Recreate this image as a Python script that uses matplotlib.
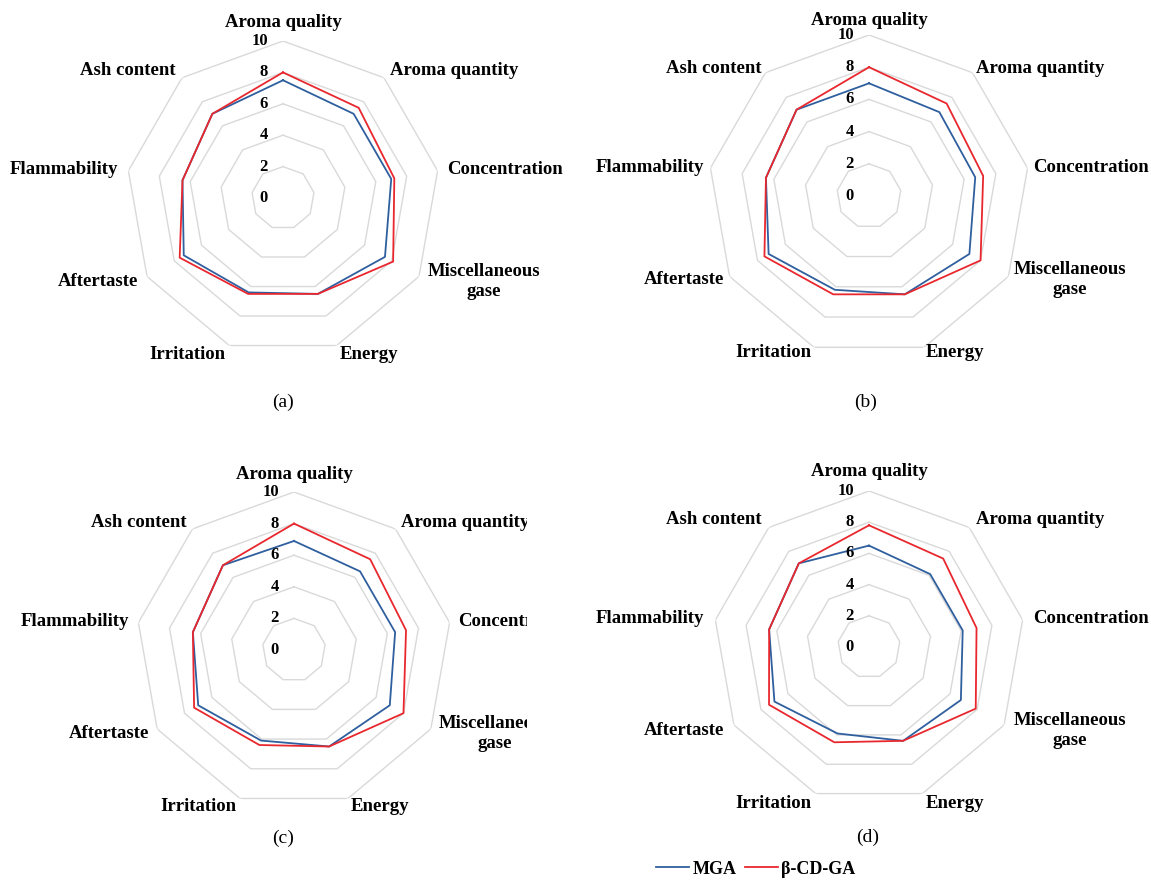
import numpy as np
import matplotlib
matplotlib.use("Agg")
import matplotlib.pyplot as plt
from matplotlib.lines import Line2D
from matplotlib.transforms import Bbox, TransformedBbox

# Sensory attributes (clockwise from the top)
categories = ["Aroma quality", "Aroma quantity", "Concentration",
              "Miscellaneous\ngase", "Energy", "Irritation",
              "Aftertaste", "Flammability", "Ash content"]
ring_values = [2, 4, 6, 8, 10]
tick_values = [0, 2, 4, 6, 8, 10]
series_names = ["MGA", "β-CD-GA"]
panel_letters = ["(a)", "(b)", "(c)", "(d)"]

# Scores per panel
mga_a = [7.5, 7.0, 7.0, 7.5, 6.5, 6.4, 7.3, 6.5, 7.0]
cdga_a = [8.0, 7.5, 7.2, 8.1, 6.5, 6.5, 7.6, 6.5, 7.0]
mga_b = [7.0, 6.8, 6.7, 7.2, 6.5, 6.2, 7.2, 6.5, 7.0]
cdga_b = [8.0, 7.5, 7.2, 8.0, 6.5, 6.5, 7.5, 6.5, 7.0]
mga_c = [6.9, 6.5, 6.5, 7.0, 6.5, 6.1, 7.0, 6.5, 7.0]
cdga_c = [8.0, 7.5, 7.2, 8.0, 6.5, 6.4, 7.3, 6.5, 7.0]
mga_d = [6.5, 6.1, 6.1, 6.8, 6.4, 5.9, 7.0, 6.5, 7.0]
cdga_d = [7.8, 7.4, 7.0, 7.9, 6.4, 6.5, 7.4, 6.5, 7.0]

W, H = 1151, 881
BLUE = "#2f5f9e"
RED = "#e8282e"
GRID = "#d9d9d9"
LABEL_OFFSET = 167  # distance of category labels from the centre, pixels

plt.rcParams["font.family"] = ["Liberation Serif", "DejaVu Serif"]
fig = plt.figure(figsize=(W / 100, H / 100), dpi=100)

# layout: (centre x, centre y, outer radius) in pixels, letter position, text clip x
layout = [
    ((283, 198), 157, (283, 402), None),
    ((869, 196), 161, (866, 402), None),
    ((294, 650), 158, (283, 838), 527),
    ((869, 647), 156, (868, 837), None),
]
panel_data = [(mga_a, cdga_a), (mga_b, cdga_b), (mga_c, cdga_c), (mga_d, cdga_d)]

n = len(categories)
theta = np.linspace(0, 2 * np.pi, n, endpoint=False)
theta_c = np.append(theta, theta[0])


def closed(vals):
    return np.append(vals, vals[0])


for (center, R, letter_pos, clip_x), (mga, cdga), letter in zip(layout, panel_data, panel_letters):
    cx, cy = center
    ax = fig.add_axes([(cx - R) / W, (H - cy - R) / H, 2 * R / W, 2 * R / H],
                      projection="polar")
    ax.set_theta_zero_location("N")
    ax.set_theta_direction(-1)
    ax.set_ylim(0, 10)
    ax.grid(False)
    ax.set_xticks([])
    ax.set_yticks([])
    ax.spines["polar"].set_visible(False)
    ax.patch.set_visible(False)

    for r in ring_values:
        ax.plot(theta_c, [r] * (n + 1), color=GRID, lw=1.0, zorder=1)

    ax.plot(theta_c, closed(mga), color=BLUE, lw=1.3, zorder=3)
    ax.plot(theta_c, closed(cdga), color=RED, lw=1.3, zorder=4)

    # radial scale labels along the top axis
    for v in tick_values:
        ax.annotate(str(v), xy=(0, v), xytext=(-15, 0), textcoords="offset pixels",
                    ha="right", va="center", fontsize=12, fontweight="bold",
                    annotation_clip=False)

    # category labels
    r_lab = 10 * LABEL_OFFSET / R
    clip_box = None
    if clip_x is not None:
        clip_box = TransformedBbox(Bbox.from_extents(0, 0, clip_x / W, 1), fig.transFigure)
    for t, lab in zip(theta, categories):
        s = np.sin(t)
        if s > 0.05:
            ha = "left"
        elif s < -0.05:
            ha = "right"
        else:
            ha = "center"
        va = "bottom" if abs(t) < 1e-6 else "center"
        txt = ax.text(t, r_lab, lab, ha=ha, va=va, fontsize=13.5, fontweight="bold",
                      multialignment="center", clip_on=False)
        if clip_box is not None:
            txt.set_clip_path(None)
            txt.set_clip_box(clip_box)
            txt.set_clip_on(True)

    fig.text(letter_pos[0] / W, 1 - letter_pos[1] / H, letter, ha="center", va="center",
             fontsize=14)

handles = [Line2D([], [], color=BLUE, lw=1.3), Line2D([], [], color=RED, lw=1.3)]
fig.legend(handles, series_names, ncol=2, loc="center",
           bbox_to_anchor=(756 / W, 1 - 869 / H), frameon=False,
           prop={"size": 13, "weight": "bold"}, handlelength=1.8,
           handletextpad=0.2, columnspacing=0.5)

fig.savefig("out.png", dpi=100, facecolor="white")
